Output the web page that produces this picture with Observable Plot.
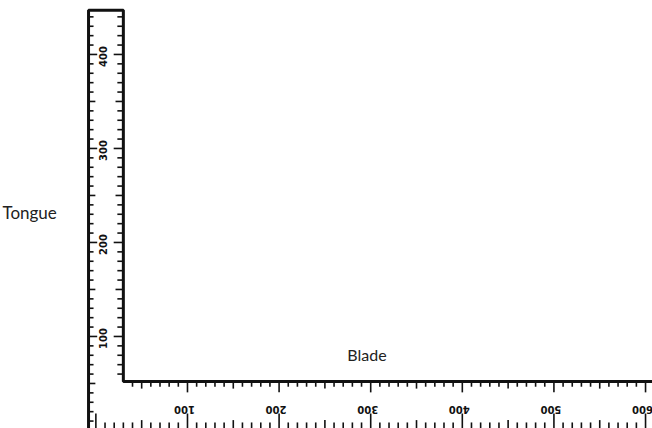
<!DOCTYPE html>
<html>
<head>
<meta charset="utf-8">
<script src="https://cdn.jsdelivr.net/npm/d3@7"></script>
<script src="https://cdn.jsdelivr.net/npm/@observablehq/plot@0.6"></script>
<style>
  html, body { margin: 0; padding: 0; background: #fff; }
  #chart svg { display: block; }
</style>
</head>
<body>
<div id="chart"></div>
<script>
// Scale labels along the blade (horizontal arm) and the tongue (vertical arm)
const bladeLabels = [100, 200, 300, 400, 500, 600];
const tongueLabels = [100, 200, 300, 400];
const partNames = ["Tongue", "Blade"];

// Square geometry in scale units
const bladeLength = 608;
const tongueLength = 447;
const bladeWidth = 52;    // inner edge of blade above the lower edge
const tongueLeft = -8;    // outer edge of tongue
const tongueRight = 30;   // inner edge of tongue
const bottom = 2;

// tick positions (every 10 units)
const bladeTopTicks = d3.range(40, 601, 10);
const bladeBottomTicks = d3.range(0, 601, 10);
const tongueLeftTicks = d3.range(10, 441, 10);
const tongueRightTicks = d3.range(60, 441, 10);

const tickLen = v => v % 100 === 0 ? 12 : (v % 50 === 0 ? 8 : 6);
const bottomLen = v => v % 100 === 0 ? 13 : (v % 50 === 0 ? 6 : 3.5);
const tongueTickLen = v => v % 100 === 0 ? 10 : (v % 50 === 0 ? 8 : 6);

const outline = [
  {x: tongueLeft, y: bottom},
  {x: tongueLeft, y: tongueLength},
  {x: tongueRight, y: tongueLength},
  {x: tongueRight, y: bladeWidth},
  {x: bladeLength, y: bladeWidth}
];

const chart = Plot.plot({
  width: 652,
  height: 428,
  margin: 0,
  x: {domain: [-104.1, 607.6], axis: null},
  y: {domain: [2.1, 457.4], axis: null},
  marks: [
    // blade top edge ticks (pointing down from inner edge)
    Plot.ruleX(bladeTopTicks, {x: d => d, y1: bladeWidth, y2: d => bladeWidth - tickLen(d), stroke: "#111", strokeWidth: 1.6}),
    // blade lower row ticks (pointing up from bottom)
    Plot.ruleX(bladeBottomTicks, {x: d => d, y1: 2.1, y2: d => 4.5 + bottomLen(d), stroke: "#111", strokeWidth: 1.6}),
    // tongue left edge ticks
    Plot.ruleY(tongueLeftTicks, {y: d => d, x1: tongueLeft, x2: d => tongueLeft + tongueTickLen(d), stroke: "#111", strokeWidth: 1.6}),
    // tongue right edge ticks
    Plot.ruleY(tongueRightTicks, {y: d => d, x1: tongueRight, x2: d => tongueRight - tongueTickLen(d), stroke: "#111", strokeWidth: 1.6}),
    // outline of the square
    Plot.line(outline, {x: "x", y: "y", stroke: "#111", strokeWidth: 3, strokeLinejoin: "miter", curve: "linear"}),
    // blade labels (upside down)
    Plot.text(bladeLabels, {x: d => d, y: 22.5, text: d => String(d), rotate: 180, dx: -3,
      fontSize: 10, fontWeight: "bold", fontFamily: "DejaVu Sans", fill: "#111"}),
    // tongue labels (rotated)
    Plot.text(tongueLabels, {x: 9, y: d => d, text: d => String(d), rotate: -90, dy: 2,
      fontSize: 10, fontWeight: "bold", fontFamily: "DejaVu Sans", fill: "#111"}),
    // part names
    Plot.text([partNames[0]], {x: -102, y: 231, text: d => d, textAnchor: "start", fontSize: 17, fontFamily: "Lato", fill: "#222"}),
    Plot.text([partNames[1]], {x: 274.5, y: 79, text: d => d, textAnchor: "start", fontSize: 16, fontFamily: "Lato", fill: "#222"})
  ]
});
document.getElementById("chart").appendChild(chart);
</script>
</body>
</html>
